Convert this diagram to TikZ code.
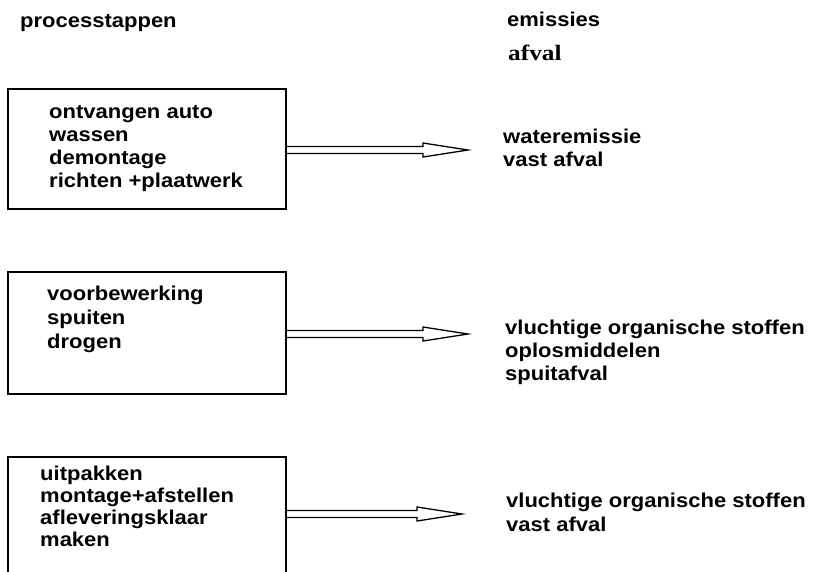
\documentclass[tikz,border=0pt]{standalone}
\usepackage{fontspec}
\usetikzlibrary{calc}
\newfontfamily\lbfont{Liberation Sans}[UprightFont=* Bold, FakeStretch=1.1]
\newfontfamily\serfont{Liberation Serif}[UprightFont=* Bold, FakeStretch=1.15]
\tikzset{
  lbl/.style={font=\lbfont\fontsize{20}{23}\selectfont, inner sep=0pt, anchor=base west},
  serlbl/.style={font=\serfont\fontsize{22}{24}\selectfont, inner sep=0pt, anchor=base west},
  box/.style={draw, line width=1.4pt, inner sep=0pt, outer sep=0pt, minimum width=278pt},
  arrowline/.style={draw, line width=1.3pt, line join=miter}
}
\newcommand\hollowarrow[2]{%
  \draw[arrowline] ($(#1)+(0,-3.5)$) -- ($(#2)+(-45,-3.5)$) -- ($(#2)+(-45,-7)$) -- (#2)
     -- ($(#2)+(-45,7)$) -- ($(#2)+(-45,3.5)$) -- ($(#1)+(0,3.5)$);}
\begin{document}
\begin{tikzpicture}[x=1pt,y=-1pt]
\useasboundingbox (0,0) rectangle (814,571);
\fill[white] (0,0) rectangle (814,571);

% headers
\node[lbl] (hproc) at (20,27) {processtappen};
\node[lbl] (hem) at (507,26) {emissies};
\node[serlbl] (haf) at (508,60) {afval};

% boxes
\node[box, minimum height=120pt] (b1) at (147,149) {};
\node[box, minimum height=122pt] (b2) at (147,333) {};
\node[box, minimum height=150pt] (b3) at (147,532) {};

% box texts
\foreach \t [count=\i from 0] in {ontvangen auto, wassen, demontage, richten +plaatwerk}
  \node[lbl] (ta\i) at (49,118+23*\i) {\t};
\foreach \t [count=\i from 0] in {voorbewerking, spuiten, drogen}
  \node[lbl] (tb\i) at (47,300+24*\i) {\t};
\foreach \t [count=\i from 0] in {uitpakken, montage+afstellen, afleveringsklaar, maken}
  \node[lbl] (tc\i) at (40,480+22*\i) {\t};

% emission texts
\foreach \t [count=\i from 0] in {wateremissie, vast afval}
  \node[lbl] (ea\i) at (503,143+23*\i) {\t};
\foreach \t [count=\i from 0] in {vluchtige organische stoffen, oplosmiddelen, spuitafval}
  \node[lbl] (eb\i) at (505,334+23*\i) {\t};
\foreach \t [count=\i from 0] in {vluchtige organische stoffen, vast afval}
  \node[lbl] (ec\i) at (506,507+24*\i) {\t};

% arrows
\coordinate (tipa) at (468,150);
\coordinate (tipb) at (468,334);
\coordinate (tipc) at (462,514);
\coordinate (sa) at (b1.east |- tipa);
\coordinate (sb) at (b2.east |- tipb);
\coordinate (sc) at (b3.east |- tipc);
\hollowarrow{sa}{tipa}
\hollowarrow{sb}{tipb}
\hollowarrow{sc}{tipc}
\end{tikzpicture}
\end{document}
